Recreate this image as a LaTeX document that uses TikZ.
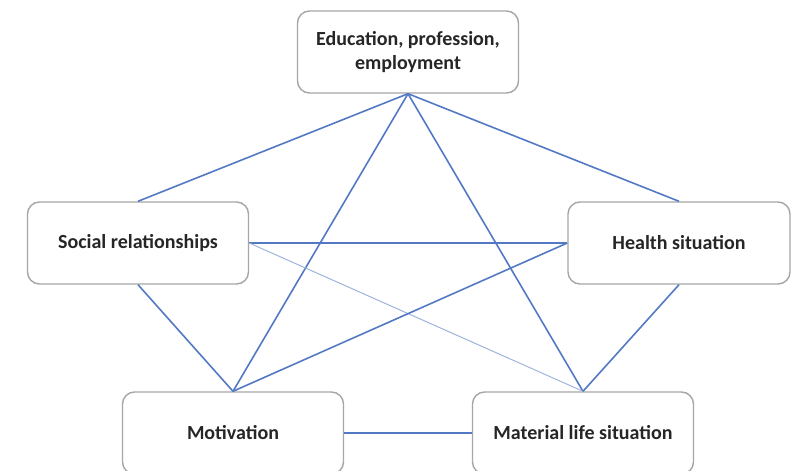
\documentclass[tikz,border=0pt]{standalone}
\usepackage{fontspec}
\setmainfont{Carlito}
\definecolor{linkblue}{HTML}{5479C4}
\definecolor{lightlink}{HTML}{9FB4DC}
\definecolor{boxgray}{HTML}{A6A6A6}
\begin{document}
\begin{tikzpicture}[x=1pt,y=-1pt,
  boxnode/.style={draw=boxgray,line width=1.4pt,rounded corners=12pt,fill=white,
    minimum width=221pt,minimum height=82pt,align=center,inner sep=0pt,
    font=\fontsize{20}{24}\selectfont\bfseries,text=black!85},
  link/.style={draw=linkblue,line width=1.6pt},
  lightline/.style={draw=lightlink,line width=1pt}]
\useasboundingbox (0,0) rectangle (803,471);
\clip (0,0) rectangle (803,471);
\node[boxnode] (edu) at (408,52) {Education, profession,\\employment};
\node[boxnode] (soc) at (138,243) {Social relationships};
\node[boxnode,minimum width=222pt] (hea) at (679,243) {Health situation};
\node[boxnode] (mot) at (233,433) {Motivation};
\node[boxnode] (mat) at (583,433) {Material life situation};
\draw[link] (edu.south) -- (soc.north);
\draw[link] (edu.south) -- (hea.north);
\draw[link] (edu.south) -- (mot.north);
\draw[link] (edu.south) -- (mat.north);
\draw[link] (soc.east) -- (hea.west);
\draw[lightline] (soc.east) -- (mat.north);
\draw[link] (hea.west) -- (mot.north);
\draw[link] (soc.south) -- (mot.north);
\draw[link] (hea.south) -- (mat.north);
\draw[link] (mot.east) -- (mat.west);
\end{tikzpicture}
\end{document}
